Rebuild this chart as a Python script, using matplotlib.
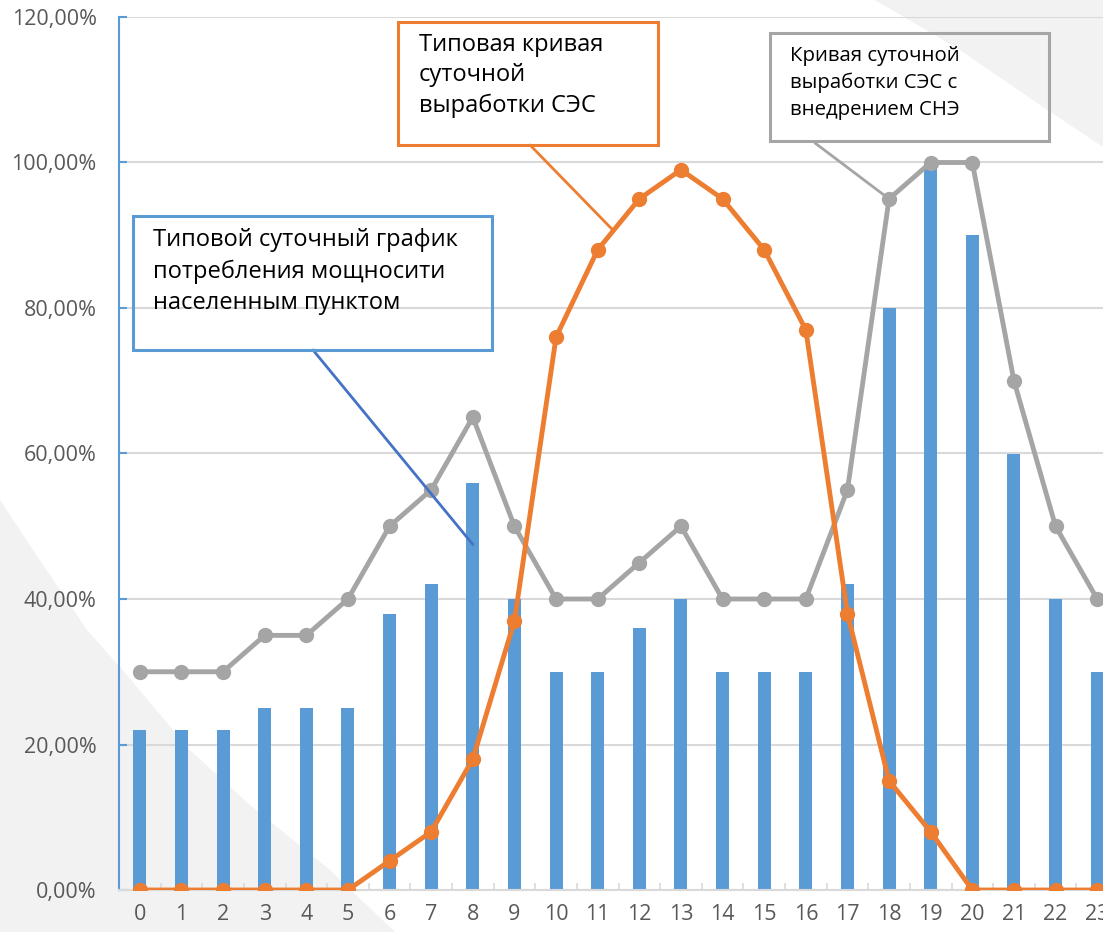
import numpy as np
import matplotlib
matplotlib.use("Agg")
import matplotlib.pyplot as plt
from matplotlib.patches import Polygon, Rectangle
from matplotlib.ticker import FuncFormatter, MultipleLocator

# hourly data, share of the daily maximum
hours = list(range(24))
consumption = [0.22, 0.22, 0.22, 0.25, 0.25, 0.25, 0.38, 0.42, 0.56, 0.40, 0.30, 0.30,
               0.36, 0.40, 0.30, 0.30, 0.30, 0.42, 0.80, 1.00, 0.90, 0.60, 0.40, 0.30]
ses_typical = [0.0, 0.0, 0.0, 0.0, 0.0, 0.0, 0.04, 0.08, 0.18, 0.37, 0.76, 0.88,
               0.95, 0.99, 0.95, 0.88, 0.77, 0.38, 0.15, 0.08, 0.0, 0.0, 0.0, 0.0]
ses_storage = [0.30, 0.30, 0.30, 0.35, 0.35, 0.40, 0.50, 0.55, 0.65, 0.50, 0.40, 0.40,
               0.45, 0.50, 0.40, 0.40, 0.40, 0.55, 0.95, 1.00, 1.00, 0.70, 0.50, 0.40]

label_consumption = "Типовой суточный график\nпотребления мощносити\nнаселенным пунктом"
label_typical = "Типовая кривая\nсуточной\nвыработки СЭС"
label_storage = "Кривая суточной\nвыработки СЭС с\nвнедрением СНЭ"

BLUE = "#5B9BD5"
ORANGE = "#ED7D31"
GRAY = "#A5A5A5"
GRID = "#D9D9D9"
TXT = "#595959"

W, H = 1103, 932
plt.rcParams['font.family'] = ['Open Sans', 'DejaVu Sans']

fig = plt.figure(figsize=(W / 100, H / 100), dpi=100)
fig.patch.set_facecolor("white")


def fp(x, y):
    # pixel position measured from the top-left corner -> figure fraction
    return x / W, 1 - y / H


# light background swooshes
left_shape = [fp(0, 500), fp(33, 550), fp(87, 630), fp(120, 667), fp(190, 750),
              fp(250, 805), fp(330, 870), fp(395, 932), fp(0, 932)]
right_shape = [fp(875, 0), fp(960, 50), fp(1040, 105), fp(1103, 147), fp(1103, 0)]
for pts in (left_shape, right_shape):
    fig.add_artist(Polygon(pts, closed=True, transform=fig.transFigure,
                           facecolor="#F2F2F2", edgecolor="none", zorder=-10))

ax = fig.add_axes([119 / W, 42 / H, (1118 - 119) / W, (890 - 17) / H])
ax.set_facecolor("none")

ax.bar(hours, consumption, width=0.31, color=BLUE, zorder=2)
ax.plot(hours, ses_storage, color=GRAY, lw=3.5, marker="o", markersize=10, zorder=3)
ax.plot(hours, ses_typical, color=ORANGE, lw=3.5, marker="o", markersize=10, zorder=4)

ax.set_xlim(-0.5, 23.5)
ax.set_ylim(0, 1.2)
ax.yaxis.set_major_locator(MultipleLocator(0.2))
ax.yaxis.set_major_formatter(FuncFormatter(lambda v, p: f"{v * 100:.2f}%".replace(".", ",")))
ax.set_xticks(hours)
ax.set_xticks(np.arange(-0.5, 24, 1), minor=True)
ax.grid(axis="y", color=GRID, lw=1.5, zorder=0)
ax.set_axisbelow(True)

for s in ("top", "right"):
    ax.spines[s].set_visible(False)
ax.spines["left"].set_color(BLUE)
ax.spines["left"].set_linewidth(1.5)
ax.spines["bottom"].set_color(GRID)
ax.spines["bottom"].set_linewidth(1.5)

ax.tick_params(axis="y", direction="in", length=6, width=1.5, color=BLUE,
               labelsize=15.5, labelcolor=TXT, pad=16)
ax.tick_params(axis="x", which="major", length=0, labelsize=15.5, labelcolor=TXT, pad=10)
ax.tick_params(axis="x", which="minor", direction="in", length=5, width=1.2, color=GRID)

# callout boxes with leader lines
callouts = [
    (label_consumption, (133, 216, 492, 350), BLUE, "#4472C4", (313, 350), (8, 0.475), 17, 153, 228, 1.4),
    (label_typical, (398, 22, 658, 145), ORANGE, ORANGE, (530, 145), (11.35, 0.908), 17, 419, 33, 1.35),
    (label_storage, (770, 33, 1049, 141), GRAY, GRAY, (815, 143), (18, 0.95), 14.7, 790, 46, 1.45),
]
for text, (x0, y0, x1, y1), ec, lc, start, end, fs, tx, ty, ls in callouts:
    fig.add_artist(Rectangle(fp(x0, y1), (x1 - x0) / W, (y1 - y0) / H,
                             transform=fig.transFigure, facecolor="none",
                             edgecolor=ec, lw=2.2, zorder=6))
    fig.text(*fp(tx, ty), text, fontsize=fs, color="black", va="top", ha="left",
             linespacing=ls, zorder=7)
    ax.annotate("", xy=end, xycoords="data", xytext=(start[0], H - start[1]),
                textcoords="figure pixels",
                arrowprops=dict(arrowstyle="-", color=lc, lw=2, shrinkA=0, shrinkB=0),
                zorder=8)

fig.savefig("out.png", dpi=100)
